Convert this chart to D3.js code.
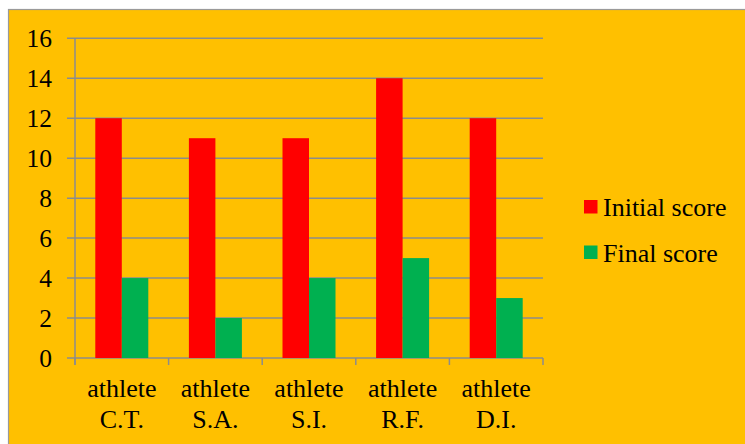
<!DOCTYPE html>
<html>
<head>
<meta charset="utf-8">
<script src="https://cdn.jsdelivr.net/npm/d3@7"></script>
<style>
  body { margin: 0; background: #ffffff; }
  svg text { font-family: "Liberation Serif", "Times New Roman", Times, serif; }
</style>
</head>
<body>
<div id="chart"></div>
<script>
  // chart data
  var categories = ["athlete C.T.", "athlete S.A.", "athlete S.I.", "athlete R.F.", "athlete D.I."];
  var seriesNames = ["Initial score", "Final score"];
  var initialScore = [12, 11, 11, 14, 12];
  var finalScore = [4, 2, 4, 5, 3];
  var yTicks = [0, 2, 4, 6, 8, 10, 12, 14, 16];
  var colors = ["#ff0000", "#00b050"];

  var width = 745, height = 444;
  var plot = {left: 75, right: 543, top: 38.3, bottom: 358};
  var font = '"Liberation Serif", "Times New Roman", Times, serif';

  var svg = d3.select("#chart").append("svg")
    .attr("width", width)
    .attr("height", height);

  // orange chart area with grey border
  svg.append("rect")
    .attr("x", 8.5)
    .attr("y", 9.5)
    .attr("width", width + 20)
    .attr("height", height + 20)
    .style("fill", "#ffc000")
    .style("stroke", "#9a9a9a")
    .style("stroke-width", 1.2);

  var x0 = d3.scaleBand()
    .domain(categories)
    .range([plot.left, plot.right])
    .padding(0);

  var x1 = d3.scaleBand()
    .domain(seriesNames)
    .range([0, x0.bandwidth()])
    .paddingInner(0)
    .paddingOuter(0.766);

  var y = d3.scaleLinear()
    .domain([0, 16])
    .range([plot.bottom, plot.top]);

  // gridlines
  svg.append("g")
    .selectAll("line")
    .data(yTicks)
    .enter()
    .append("line")
    .attr("x1", plot.left - 8)
    .attr("x2", plot.right)
    .attr("y1", function(d) { return y(d); })
    .attr("y2", function(d) { return y(d); })
    .style("stroke", "#8c8c8c")
    .style("stroke-width", 1.5);

  // y axis line
  svg.append("line")
    .attr("x1", plot.left).attr("x2", plot.left)
    .attr("y1", plot.top).attr("y2", plot.bottom + 7)
    .style("stroke", "#8c8c8c")
    .style("stroke-width", 1.5);

  // x tick marks between categories
  var xTickPos = categories.map(function(c) { return x0(c); }).concat([plot.right]);
  svg.append("g")
    .selectAll("line")
    .data(xTickPos)
    .enter()
    .append("line")
    .attr("x1", function(d) { return d; })
    .attr("x2", function(d) { return d; })
    .attr("y1", plot.bottom)
    .attr("y2", plot.bottom + 7)
    .style("stroke", "#8c8c8c")
    .style("stroke-width", 1.5);

  // y tick labels
  svg.append("g")
    .selectAll("text")
    .data(yTicks)
    .enter()
    .append("text")
    .attr("x", 52)
    .attr("y", function(d) { return y(d); })
    .attr("dy", "0.35em")
    .attr("text-anchor", "end")
    .attr("font-family", font)
    .attr("font-size", 25.5)
    .attr("fill", "#000")
    .text(function(d) { return d; });

  // bars
  var rows = categories.map(function(c, i) {
    return {cat: c, values: [initialScore[i], finalScore[i]]};
  });

  var groups = svg.append("g")
    .selectAll("g")
    .data(rows)
    .enter()
    .append("g")
    .attr("transform", function(d) { return "translate(" + x0(d.cat) + ",0)"; });

  groups.selectAll("rect")
    .data(function(d) { return d.values.map(function(v, j) { return {name: seriesNames[j], value: v, idx: j}; }); })
    .enter()
    .append("rect")
    .attr("x", function(d) { return x1(d.name); })
    .attr("width", x1.bandwidth())
    .attr("y", function(d) { return y(d.value); })
    .attr("height", function(d) { return y(0) - y(d.value); })
    .style("fill", function(d) { return colors[d.idx]; });

  // category labels, two lines
  var catLabels = svg.append("g")
    .selectAll("text")
    .data(categories)
    .enter()
    .append("text")
    .attr("text-anchor", "middle")
    .attr("font-family", font)
    .attr("font-size", 26)
    .attr("fill", "#000");

  catLabels.each(function(d) {
    var parts = d.split(" ");
    var cx = x0(d) + x0.bandwidth() / 2;
    var t = d3.select(this);
    t.append("tspan").attr("x", cx).attr("y", 397).text(parts[0]);
    t.append("tspan").attr("x", cx).attr("y", 428).text(parts[1]);
  });

  // legend
  var legend = svg.append("g")
    .selectAll("g")
    .data(seriesNames)
    .enter()
    .append("g")
    .attr("transform", function(d, i) { return "translate(584," + (200 + i * 45.5) + ")"; });

  legend.append("rect")
    .attr("width", 13.5)
    .attr("height", 13.5)
    .style("fill", function(d, i) { return colors[i]; });

  legend.append("text")
    .attr("x", 19)
    .attr("y", 16)
    .attr("font-family", font)
    .attr("font-size", 26)
    .attr("fill", "#000")
    .text(function(d) { return d; });
</script>
</body>
</html>
